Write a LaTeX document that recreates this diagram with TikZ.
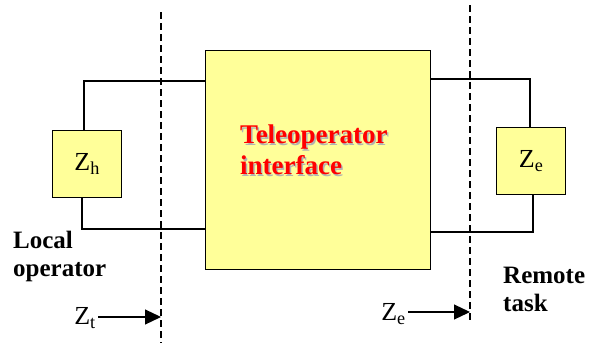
\documentclass[tikz,border=0pt]{standalone}
\usepackage{fontspec}
\setmainfont{Liberation Serif}
\usetikzlibrary{arrows.meta}
\definecolor{boxyellow}{HTML}{FFFF99}
\begin{document}
\begin{tikzpicture}[x=1pt,y=-1pt,
  box/.style={draw=black,line width=1.3pt,fill=boxyellow,inner sep=0pt,anchor=north west},
  wire/.style={line width=1.2pt},
  dashline/.style={line width=1.2pt,dash pattern=on 7pt off 4pt},
  lbl/.style={font=\fontsize{25}{28}\selectfont\bfseries,align=left,inner sep=0pt,anchor=north west},
  zlbl/.style={font=\fontsize{26}{28}\selectfont,inner sep=0pt},
  arr/.style={line width=1.2pt,-{Triangle[length=16pt,width=15pt]}}]
\useasboundingbox (0,0) rectangle (600,343);
% dashed boundaries
\coordinate (d1t) at (161,12); \coordinate (d1b) at (161,343);
\coordinate (d2t) at (470,5); \coordinate (d2b) at (470,322);
\draw[dashline] (d1t) -- (d1b);
\draw[dashline] (d2t) -- (d2b);
% boxes
\node[box,minimum width=225pt,minimum height=219pt] (tele) at (205,50) {};
\node[box,minimum width=69pt,minimum height=67pt] (zh) at (52,130) {};
\node[box,minimum width=69pt,minimum height=67pt] (ze) at (496,127) {};
\node[zlbl] at (zh.center) {Z\textsubscript{h}};
\node[zlbl] at (ze.center) {Z\textsubscript{e}};
% teleoperator text with shadow
\node[lbl,font=\fontsize{27}{31}\selectfont\bfseries,text=gray!60] at (241.5,126.5) {Teleoperator\\interface};
\node[lbl,font=\fontsize{27}{31}\selectfont\bfseries,text=red] (tt) at (240,125) {Teleoperator\\interface};
% wires left
\coordinate (lt) at (84,81); \coordinate (lb) at (82,229);
\draw[wire] (tele.west |- lt) -- (lt) -- (lt |- zh.north);
\draw[wire] (lb |- zh.south) -- (lb) -- (tele.west |- lb);
% wires right
\coordinate (rt) at (530,79); \coordinate (rb) at (533,232);
\draw[wire] (tele.east |- rt) -- (rt) -- (rt |- ze.north);
\draw[wire] (rb |- ze.south) -- (rb) -- (tele.east |- rb);
% labels
\node[lbl] (local) at (13,231) {Local\\operator};
\node[lbl] (remote) at (503,267) {Remote\\task};
\node[zlbl,anchor=east] (zt) at (96,318) {Z\textsubscript{t}};
\node[zlbl,anchor=east] (zee) at (406,314) {Z\textsubscript{e}};
\draw[arr] (zt.east |- 0,317) ++(2,0) -- (d1t |- 0,317);
\draw[arr] (zee.east |- 0,312) ++(2,0) -- (d2t |- 0,312);
\end{tikzpicture}
\end{document}
